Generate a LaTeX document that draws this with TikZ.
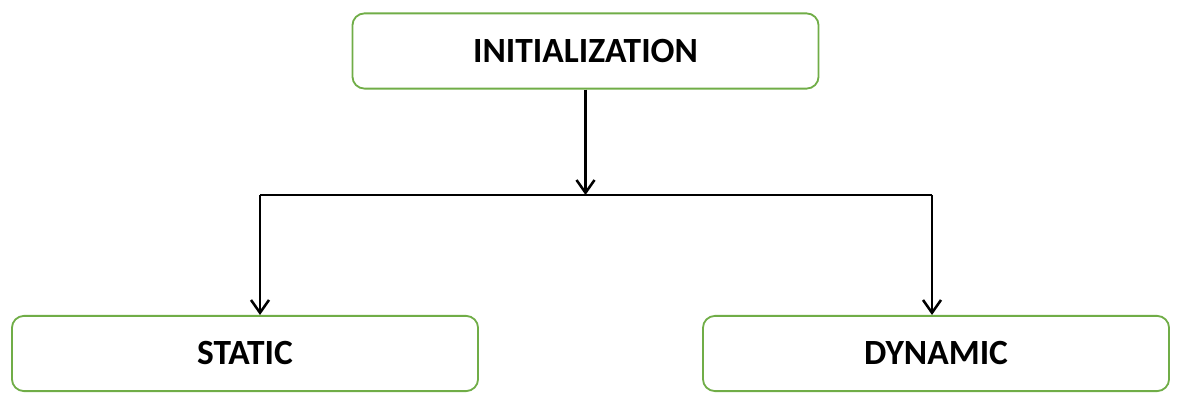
\documentclass[tikz,border=0pt]{standalone}
\usepackage{fontspec}
\setmainfont{Carlito}
\usetikzlibrary{arrows.meta}
\definecolor{boxgreen}{HTML}{70AD47}

\begin{document}
\begin{tikzpicture}[x=0.025cm,y=-0.025cm,
  stage/.style={draw=boxgreen,line width=1.3pt,rounded corners=0.3cm,
    minimum width=11.65cm,minimum height=1.88cm,
    font=\fontsize{25.2}{30}\selectfont\bfseries},
  link/.style={line width=2pt},
  flow/.style={link,-{Straight Barb[length=0.32cm,width=0.45cm,line width=1.8pt]}}]
  \useasboundingbox (0,0) rectangle (1181,405);
  \node[stage] (init) at (585.5,51) {INITIALIZATION};
  \node[stage] (static) at (245,353.5) {STATIC};
  \node[stage] (dynamic) at (936,353.5) {DYNAMIC};
  \coordinate (mid) at (585.5,195);
  \coordinate (left) at (260,195);
  \coordinate (right) at (932,195);
  \draw[flow] (init.south) -- (mid);
  \draw[link] (left) -- (right);
  \draw[flow] (left) -- (left |- static.north);
  \draw[flow] (right) -- (right |- dynamic.north);
\end{tikzpicture}
\end{document}
